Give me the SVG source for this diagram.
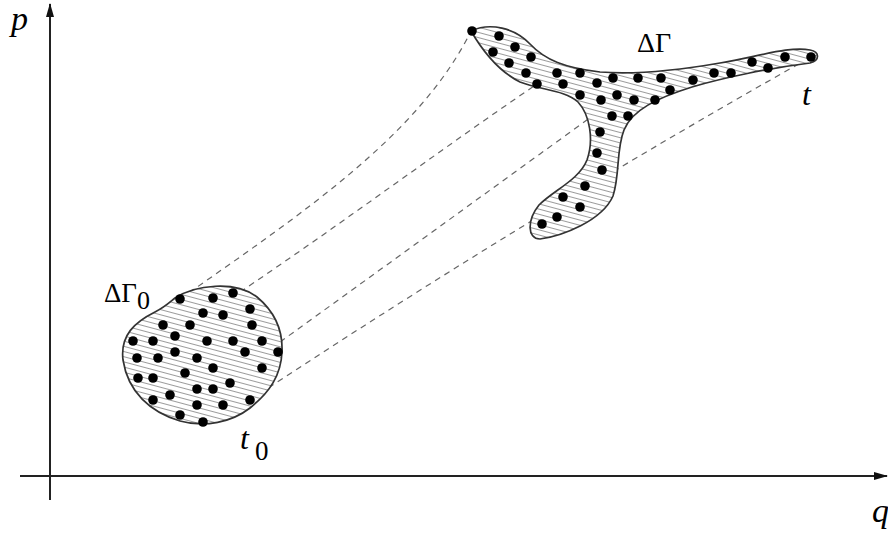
<svg xmlns="http://www.w3.org/2000/svg" width="888" height="533" viewBox="0 0 888 533">
<style>
.axis{stroke:#222;stroke-width:2;fill:none}
.dash{stroke:#666;stroke-width:1.2;fill:none;stroke-dasharray:6 5}
.blob{fill:url(#hatch);stroke:#333;stroke-width:1.7}
.dot{fill:#000}
.lbl{font-family:"Liberation Serif","Times New Roman",serif;fill:#000}
.it{font-style:italic}
</style>
<defs>
<pattern id="hatch" patternUnits="userSpaceOnUse" width="10" height="5" patternTransform="rotate(15)">
<rect width="10" height="5" fill="#fff"/>
<line x1="0" y1="2.5" x2="10" y2="2.5" stroke="#909090" stroke-width="0.9"/>
</pattern>
<marker id="arr" viewBox="0 0 14 8" refX="13" refY="4" markerWidth="14" markerHeight="8" markerUnits="userSpaceOnUse" orient="auto">
<path d="M0,0 L14,4 L0,8 Z" fill="#111"/>
</marker>
<circle id="d" r="4.8"/>
</defs>
<rect width="888" height="533" fill="#fff"/>
<g id="axes">
<line class="axis" x1="50" y1="500" x2="50" y2="4" marker-end="url(#arr)"/>
<line class="axis" x1="20" y1="476" x2="887" y2="476" marker-end="url(#arr)"/>
<text class="lbl it" x="11" y="30" font-size="34">p</text>
<text class="lbl it" x="872" y="522" font-size="34">q</text>
</g>
<g id="connectors">
<path class="dash" d="M180,299 C300,215 420,135 471,31"/>
<path class="dash" d="M240,292 C340,225 440,150 537,84"/>
<path class="dash" d="M280,342 C380,270 490,190 598,112"/>
<path class="dash" d="M250,400 Q530,215 811,57"/>
</g>
<g id="region-initial">
<path class="blob" d="M175,298 C195,285 235,280 257,297 C275,312 283,330 282,352 C281,375 270,392 250,408 C232,422 205,428 180,421 C150,412 128,392 123,360 C120,335 135,322 155,312 C165,307 170,302 175,298 Z"/>
<g class="dot">
<use href="#d" x="180" y="299"/><use href="#d" x="213" y="298"/><use href="#d" x="233" y="293"/>
<use href="#d" x="250" y="309"/><use href="#d" x="203" y="313"/><use href="#d" x="223" y="315"/>
<use href="#d" x="252" y="325"/><use href="#d" x="163" y="325"/><use href="#d" x="190" y="325"/>
<use href="#d" x="175" y="336"/><use href="#d" x="133" y="341"/><use href="#d" x="153" y="341"/>
<use href="#d" x="207" y="341"/><use href="#d" x="233" y="341"/><use href="#d" x="262" y="341"/>
<use href="#d" x="245" y="352"/><use href="#d" x="278" y="352"/><use href="#d" x="175" y="352"/>
<use href="#d" x="137" y="358"/><use href="#d" x="158" y="358"/><use href="#d" x="197" y="358"/>
<use href="#d" x="213" y="368"/><use href="#d" x="262" y="368"/><use href="#d" x="185" y="373"/>
<use href="#d" x="138" y="378"/><use href="#d" x="153" y="378"/><use href="#d" x="230" y="383"/>
<use href="#d" x="197" y="389"/><use href="#d" x="213" y="389"/><use href="#d" x="170" y="395"/>
<use href="#d" x="153" y="400"/><use href="#d" x="250" y="400"/><use href="#d" x="197" y="405"/>
<use href="#d" x="223" y="405"/><use href="#d" x="180" y="415"/><use href="#d" x="203" y="422"/>
</g>
<text class="lbl" x="104" y="302" font-size="27">ΔΓ</text>
<text class="lbl" x="137" y="309" font-size="26">0</text>
<text class="lbl it" x="240" y="449" font-size="32">t</text>
<text class="lbl" x="255" y="460" font-size="27">0</text>
</g>
<g id="region-final">
<path class="blob" d="M471,31 C490,22 515,28 530,44 C545,60 565,68 600,72 C640,75 680,70 720,63 C760,56 790,46 810,50 C820,52 820,60 810,63 C770,68 722,78 692,87 C657,98 632,110 624,130 C616,150 620,175 613,196 C602,221 562,236 540,239 C527,239 527,220 539,205 C554,190 579,180 587,160 C594,140 590,115 578,102 C565,90 540,90 520,82 C500,72 485,55 471,31 Z"/>
<g class="dot">
<use href="#d" x="472" y="31"/><use href="#d" x="499" y="36"/><use href="#d" x="515" y="47"/>
<use href="#d" x="493" y="52"/><use href="#d" x="509" y="63"/><use href="#d" x="531" y="57"/>
<use href="#d" x="526" y="73"/><use href="#d" x="537" y="84"/><use href="#d" x="557" y="73"/>
<use href="#d" x="580" y="73"/><use href="#d" x="563" y="84"/><use href="#d" x="597" y="83"/>
<use href="#d" x="613" y="78"/><use href="#d" x="638" y="78"/><use href="#d" x="661" y="78"/>
<use href="#d" x="670" y="90"/><use href="#d" x="693" y="80"/><use href="#d" x="714" y="73"/>
<use href="#d" x="731" y="73"/><use href="#d" x="752" y="62"/><use href="#d" x="768" y="68"/>
<use href="#d" x="785" y="57"/><use href="#d" x="811" y="57"/><use href="#d" x="580" y="95"/>
<use href="#d" x="601" y="100"/><use href="#d" x="617" y="95"/><use href="#d" x="634" y="100"/>
<use href="#d" x="655" y="100"/><use href="#d" x="612" y="116"/><use href="#d" x="628" y="116"/>
<use href="#d" x="600" y="132"/><use href="#d" x="597" y="153"/><use href="#d" x="602" y="170"/>
<use href="#d" x="585" y="186"/><use href="#d" x="563" y="197"/><use href="#d" x="580" y="207"/>
<use href="#d" x="557" y="217"/><use href="#d" x="542" y="224"/>
</g>
<text class="lbl" x="637" y="52" font-size="28">ΔΓ</text>
<text class="lbl it" x="802" y="105" font-size="32">t</text>
</g>
</svg>
